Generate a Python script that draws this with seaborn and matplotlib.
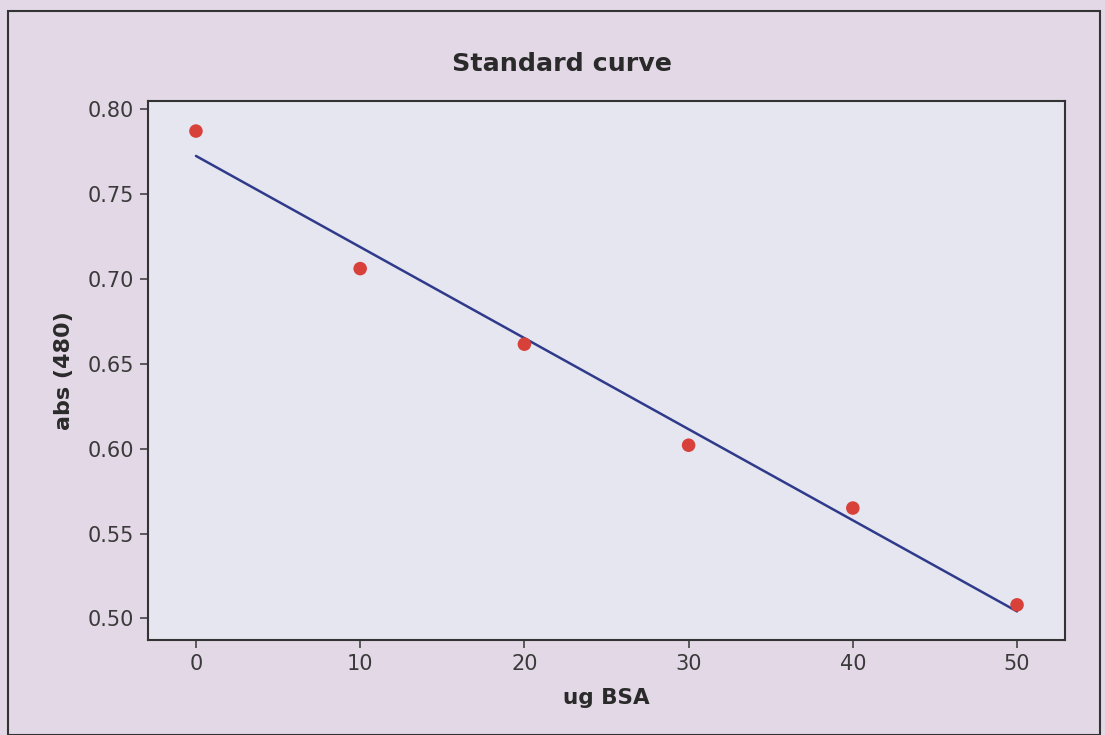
import matplotlib
matplotlib.use("Agg")
import matplotlib.pyplot as plt
import seaborn as sns
import pandas as pd

ug_bsa = [0, 10, 20, 30, 40, 50]
absorbance = [0.787, 0.706, 0.6615, 0.602, 0.565, 0.508]
x_ticks = [0, 10, 20, 30, 40, 50]
y_ticks = [0.50, 0.55, 0.60, 0.65, 0.70, 0.75, 0.80]

df = pd.DataFrame({"ug BSA": ug_bsa, "abs (480)": absorbance})

sns.set_theme(style="ticks")
plt.rcParams["font.family"] = ["DejaVu Sans"]

fig = plt.figure(figsize=(11.05, 7.35), dpi=100, facecolor="#e3d8e6")
ax = fig.add_axes([148/1105, 1 - 640/735, (1065-148)/1105, (640-101)/735])
ax.set_facecolor("#e6e6f1")

sns.regplot(data=df, x="ug BSA", y="abs (480)", ci=None, ax=ax,
            scatter_kws=dict(s=95, color="#d8403a", edgecolor="none", alpha=1, zorder=3),
            line_kws=dict(color="#2f3a8a", lw=1.8))

ax.set_xlim(-2.92, 52.92)
ax.set_ylim(0.4873, 0.8047)
ax.set_xticks(x_ticks)
ax.set_yticks(y_ticks)
ax.set_yticklabels([f"{v:.2f}" for v in y_ticks])
for s in ax.spines.values():
    s.set_color("#333333")
    s.set_linewidth(1.5)
ax.tick_params(labelsize=15, colors="#444444", length=6, width=1.2, labelcolor="#3a3a3a", pad=4)
ax.set_xlabel("ug BSA", fontsize=15.5, fontweight="bold", color="#2a2a2a", labelpad=10)
ax.set_ylabel("abs (480)", fontsize=16, fontweight="bold", color="#2a2a2a", labelpad=10)
fig.text(562/1105, 1 - 64/735, "Standard curve", fontsize=18.3, fontweight="bold",
         color="#2a2a2a", ha="center", va="center")

# outer frame
fig.patches.append(plt.Rectangle((8/1105, 0), (1100-8)/1105, 1 - 11/735,
                                 transform=fig.transFigure, fill=False,
                                 edgecolor="#333333", lw=1.5))

fig.savefig("out.png", dpi=100, facecolor=fig.get_facecolor())
